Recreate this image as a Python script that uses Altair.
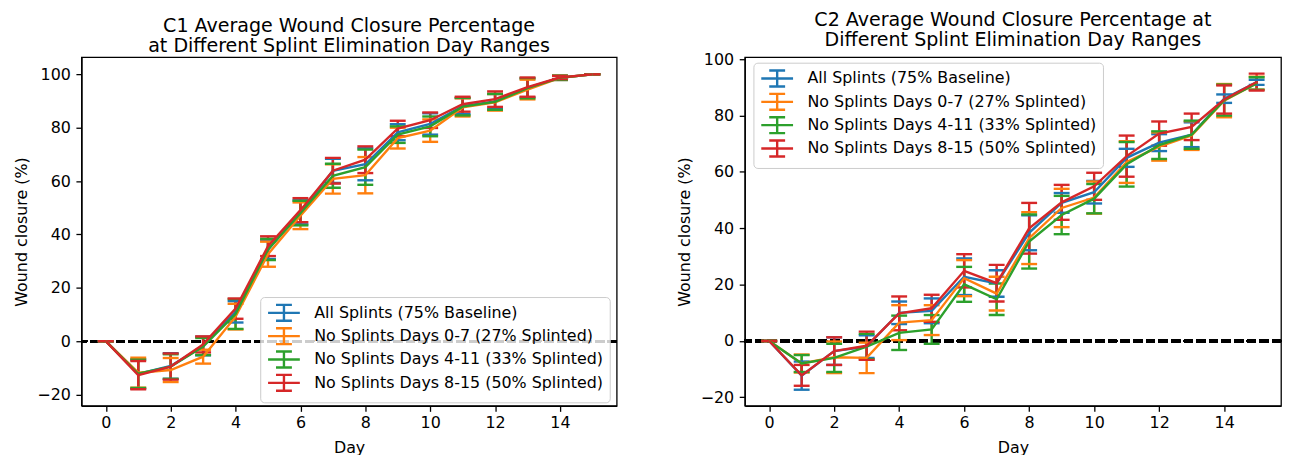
import altair as alt
import pandas as pd

days = list(range(16))
series_names = [
    "All Splints (75% Baseline)",
    "No Splints Days 0-7 (27% Splinted)",
    "No Splints Days 4-11 (33% Splinted)",
    "No Splints Days 8-15 (50% Splinted)",
]
colors = ["#1f77b4", "#ff7f0e", "#2ca02c", "#d62728"]

# ---- C1 panel (mean, symmetric error) ----
c1_all_mean = [0, -12.3, -9.3, -1.8, 11.0, 34.3, 48.3, 63.8, 66.3, 78.3, 81.4, 88.1, 89.8, 94.9, 98.7, 100]
c1_all_err = [0, 5.5, 4.8, 3.5, 4.0, 3.5, 4.5, 4.5, 6.0, 3.0, 4.0, 3.0, 2.8, 3.5, 0.8, 0]
c1_d07_mean = [0, -11.8, -10.8, -5.8, 9.2, 32.6, 47.0, 60.8, 62.2, 76.1, 78.9, 87.6, 89.5, 94.3, 98.7, 100]
c1_d07_err = [0, 5.6, 4.5, 2.6, 4.8, 4.7, 5.0, 5.5, 6.8, 3.9, 4.2, 3.4, 3.1, 3.7, 0.8, 0]
c1_d411_mean = [0, -12.2, -9.5, -2.0, 10.2, 34.4, 48.0, 62.0, 65.2, 77.4, 80.5, 87.9, 89.7, 94.8, 98.7, 100]
c1_d411_err = [0, 5.3, 4.6, 3.2, 5.6, 4.0, 4.6, 4.5, 6.6, 3.1, 3.7, 3.3, 3.0, 3.8, 0.8, 0]
c1_d815_mean = [0, -12.7, -9.5, -1.2, 12.2, 35.6, 49.1, 63.9, 68.0, 79.7, 82.8, 88.8, 90.7, 95.2, 98.8, 100]
c1_d815_err = [0, 5.3, 4.9, 3.0, 3.8, 3.7, 4.5, 4.8, 5.0, 2.9, 2.9, 2.8, 2.9, 3.6, 0.6, 0]

# ---- C2 panel ----
c2_all_mean = [0, -12.3, -3.6, -2.0, 10.0, 10.7, 22.8, 20.4, 38.4, 49.0, 52.8, 65.0, 70.4, 73.2, 86.0, 91.8]
c2_all_err = [0, 5.0, 4.9, 4.0, 4.0, 4.4, 6.5, 4.7, 6.2, 3.5, 4.0, 3.2, 3.0, 4.4, 1.5, 0.9]
c2_d07_mean = [0, -8.0, -5.8, -6.0, 6.5, 7.4, 22.3, 16.8, 36.5, 47.2, 50.9, 63.5, 69.0, 72.9, 85.3, 91.5]
c2_d07_err = [0, 3.2, 5.6, 5.4, 6.2, 5.3, 6.4, 6.0, 9.2, 6.8, 5.7, 7.4, 5.0, 5.1, 5.9, 2.3]
c2_d411_mean = [0, -8.0, -6.0, -2.0, 2.9, 4.1, 20.1, 14.8, 35.3, 44.7, 50.5, 62.7, 69.5, 73.2, 85.5, 91.4]
c2_d411_err = [0, 3.0, 5.0, 4.5, 6.1, 5.1, 6.2, 5.6, 9.6, 6.8, 5.2, 7.9, 4.9, 5.0, 5.5, 2.2]
c2_d815_mean = [0, -12.2, -3.6, -1.7, 9.8, 11.6, 24.9, 20.5, 40.0, 49.2, 54.9, 65.6, 73.6, 76.0, 85.7, 91.9]
c2_d815_err = [0, 3.7, 4.9, 5.0, 6.0, 4.8, 5.9, 6.5, 9.0, 6.2, 4.8, 7.3, 4.3, 4.7, 5.0, 3.0]

x_ticks = [0, 2, 4, 6, 8, 10, 12, 14]
y_ticks = [-20, 0, 20, 40, 60, 80, 100]
x_domain = [-0.75, 15.75]
c1_y_domain = [-24.2, 106.4]
c2_y_domain = [-23.0, 100.7]

c1_title = ["C1 Average Wound Closure Percentage", "at Different Splint Elimination Day Ranges"]
c2_title = ["C2 Average Wound Closure Percentage at", "Different Splint Elimination Day Ranges"]


def build_frame(means, errs):
    rows = []
    for name, m, e in zip(series_names, means, errs):
        for d, mv, ev in zip(days, m, e):
            rows.append({"day": d, "series": name, "mean": mv, "lo": mv - ev, "hi": mv + ev})
    return pd.DataFrame(rows)


c1_df = build_frame([c1_all_mean, c1_d07_mean, c1_d411_mean, c1_d815_mean],
                    [c1_all_err, c1_d07_err, c1_d411_err, c1_d815_err])
c2_df = build_frame([c2_all_mean, c2_d07_mean, c2_d411_mean, c2_d815_mean],
                    [c2_all_err, c2_d07_err, c2_d411_err, c2_d815_err])

FONT = "DejaVu Sans"
LW = 2.4
SYMBOL = "M-1,0L3,0M1,-1L1,1M0,-1L2,-1M0,1L2,1"


def panel(df, title_lines, y_domain, legend_x, legend_y, width):
    legend = alt.Legend(
        orient="none", legendX=legend_x, legendY=legend_y, title=None,
        symbolType=SYMBOL, symbolSize=256, symbolStrokeWidth=LW,
        symbolFillColor="transparent", labelOffset=29,
        labelFont=FONT, labelFontSize=16, labelColor="black", labelLimit=500,
        padding=6.4, rowPadding=-3.5, cornerRadius=4,
        fillColor="rgba(255,255,255,0.8)", strokeColor="#cccccc",
    )
    color = alt.Color("series:N", title=None,
                      scale=alt.Scale(domain=series_names, range=colors),
                      legend=legend)
    xs = alt.Scale(domain=x_domain, nice=False, zero=False)
    ys = alt.Scale(domain=y_domain, nice=False, zero=False)
    xaxis = alt.Axis(values=x_ticks, title="Day", format="d")
    yaxis = alt.Axis(values=y_ticks, title="Wound closure (%)", format="d")

    base = alt.Chart(df)
    zero = alt.Chart(df).mark_rule(color="black", strokeWidth=LW, strokeDash=[8.9, 3.8]).encode(
        y=alt.datum(0, scale=ys, axis=yaxis)
    )
    bars = base.mark_rule(strokeWidth=LW).encode(
        x=alt.X("day:Q", scale=xs, axis=xaxis),
        y=alt.Y("lo:Q", scale=ys, axis=yaxis),
        y2="hi:Q",
        color=color,
    )
    cap_lo = base.mark_tick(orient="horizontal", size=16, thickness=LW, opacity=1).encode(
        x=alt.X("day:Q", scale=xs, axis=xaxis),
        y=alt.Y("lo:Q", scale=ys, axis=yaxis),
        color=color,
    )
    cap_hi = base.mark_tick(orient="horizontal", size=16, thickness=LW, opacity=1).encode(
        x=alt.X("day:Q", scale=xs, axis=xaxis),
        y=alt.Y("hi:Q", scale=ys, axis=yaxis),
        color=color,
    )
    lines = base.mark_line(strokeWidth=LW).encode(
        x=alt.X("day:Q", scale=xs, axis=xaxis),
        y=alt.Y("mean:Q", scale=ys, axis=yaxis),
        color=color,
        order="day:Q",
    )
    return alt.layer(zero, bars, cap_lo, cap_hi, lines).properties(
        width=width, height=351,
        title=alt.TitleParams(
            text=title_lines, font=FONT, fontSize=19.2, fontWeight="normal",
            color="black", anchor="middle", frame="group", lineHeight=20.5, offset=1,
        ),
    )


left = panel(c1_df, c1_title, c1_y_domain, 180, 241.5, 539)
right = panel(c2_df, c2_title, c2_y_domain, 8.7, 5.5, 540)

chart = alt.hconcat(left, right, spacing=57).resolve_legend(color="independent").properties(
    padding={"left": 4, "top": 0, "right": 0, "bottom": 0}
).configure_view(
    stroke="black", strokeWidth=1.3
).configure_axis(
    grid=False,
    labelFont=FONT, labelFontSize=16, labelColor="black", labelPadding=5.6,
    tickColor="black", tickSize=5.6, tickWidth=1.3,
    domainColor="black", domainWidth=1.3,
    titleFont=FONT, titleFontSize=16, titleFontWeight="normal", titleColor="black",
).configure_axisX(labelPadding=3, titlePadding=9).configure_axisY(titlePadding=7.7)

chart.save("out.html", embed_options={"renderer": "svg", "actions": False})
